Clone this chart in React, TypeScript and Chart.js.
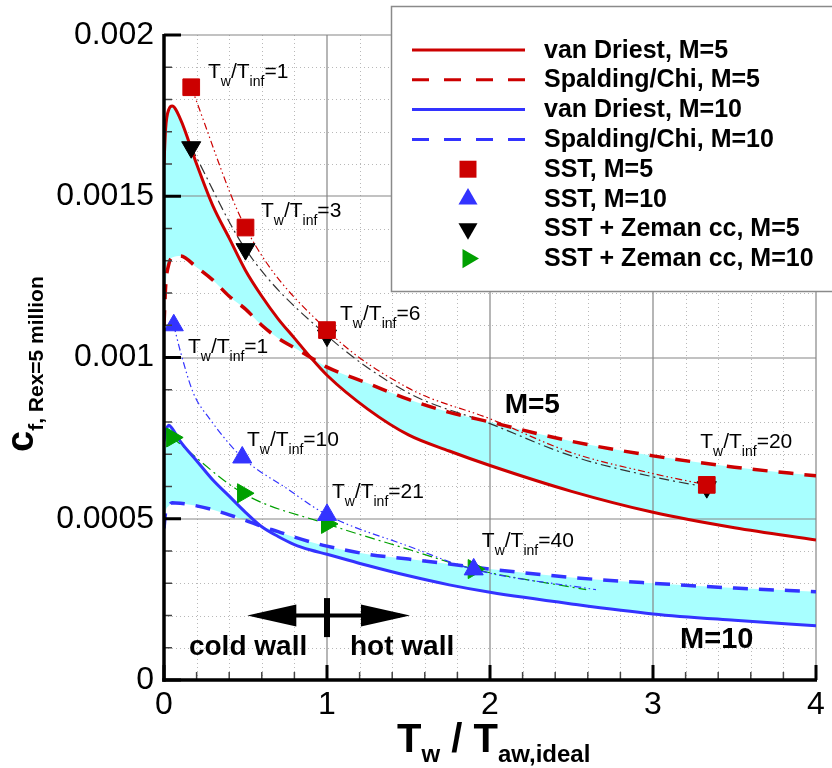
import React, { useEffect, useRef } from 'react';
import { Chart, registerables } from 'chart.js';

Chart.register(...registerables);

// ---------------- data ----------------
const xGrid = [0, 0.01, 0.03, 0.05, 0.1, 0.2, 0.3, 0.4, 0.5, 0.6, 0.7, 0.8, 0.9, 1.0, 1.25, 1.5, 1.75, 2.0, 2.5, 3.0, 3.5, 4.0];
const vanDriestM5 = [0.0016, 0.00171, 0.00177, 0.00178, 0.00174, 0.0016, 0.00147, 0.00137, 0.00127, 0.00119, 0.00112, 0.00106, 0.001, 0.000945, 0.00084, 0.00076, 0.00071, 0.000665, 0.000585, 0.00052, 0.000472, 0.000434];
const spaldingM5 = [0.0011, 0.00122, 0.00129, 0.00131, 0.001315, 0.00128, 0.00124, 0.00119, 0.00115, 0.0011, 0.00106, 0.00103, 0.001, 0.00097, 0.00092, 0.00087, 0.00083, 0.0008, 0.00074, 0.000695, 0.00066, 0.000633];
const vanDriestM10 = [0.00074, 0.00077, 0.00079, 0.00078, 0.00074, 0.00068, 0.00062, 0.00057, 0.00052, 0.000475, 0.000445, 0.00042, 0.000403, 0.00039, 0.000355, 0.000323, 0.000295, 0.000272, 0.000236, 0.000205, 0.000185, 0.000168];
const spaldingM10 = [0.00047, 0.00052, 0.00054, 0.00055, 0.000548, 0.00054, 0.000528, 0.000512, 0.000495, 0.000476, 0.00046, 0.000443, 0.000428, 0.000415, 0.00039, 0.000375, 0.00036, 0.000344, 0.000318, 0.0003, 0.000285, 0.000274];

const sstM5X = [0.167, 0.5, 1.0, 3.33];
const sstM5Y = [0.001838, 0.001403, 0.001085, 0.000605];
const sstM10X = [0.06, 0.48, 1.0, 1.9];
const sstM10Y = [0.0011, 0.00069, 0.000512, 0.000343];
const zemanM5X = [0.167, 0.5, 1.0, 3.33];
const zemanM5Y = [0.001652, 0.001336, 0.001068, 0.000598];
const zemanM10X = [0.05, 0.485, 1.0, 1.9];
const zemanM10Y = [0.000752, 0.000579, 0.000484, 0.000344];

// thin connecting curves through the SST results
const fitSstM5X = [0.167, 0.5, 1.0, 1.5, 2.0, 2.5, 3.0, 3.33];
const fitSstM5Y = [0.001838, 0.001403, 0.001085, 0.000905, 0.00081, 0.000705, 0.00064, 0.000605];
const fitZemanM5X = [0.167, 0.5, 1.0, 1.5, 2.0, 2.5, 3.0, 3.33];
const fitZemanM5Y = [0.001652, 0.001336, 0.001068, 0.00089, 0.000795, 0.000695, 0.00063, 0.000598];
const fitSstM10X = [0.06, 0.1, 0.18, 0.28, 0.48, 0.75, 1.0, 1.5, 1.9, 2.65];
const fitSstM10Y = [0.0011, 0.00102, 0.00089, 0.00081, 0.00069, 0.000595, 0.000512, 0.000415, 0.000343, 0.00028];
const fitZemanM10X = [0.05, 0.485, 1.0, 1.5, 1.9, 2.59];
const fitZemanM10Y = [0.000752, 0.000579, 0.000484, 0.000405, 0.000344, 0.00028];

const xTickLabels = ['0', '1', '2', '3', '4'];
const yTickLabels = ['0', '0.0005', '0.001', '0.0015', '0.002'];

const legendLabels = [
  'van Driest, M=5',
  'Spalding/Chi, M=5',
  'van Driest, M=10',
  'Spalding/Chi, M=10',
  'SST, M=5',
  'SST, M=10',
  'SST + Zeman cc, M=5',
  'SST + Zeman cc, M=10',
];

const ratioValues = ['1', '3', '6', '1', '10', '21', '40', '20'];

// ---------------- styles / layout ----------------
const FONT = "'Liberation Sans', Arial, Helvetica, sans-serif";
const RED = '#cc0000';
const BLUE = '#3333ff';
const GREEN = '#00a000';
const BLACK = '#000000';
const CYAN = '#a8ffff';

const ratioAnchors = [
  { x: 0.27, y: 0.001867 },
  { x: 0.595, y: 0.001436 },
  { x: 1.08, y: 0.001116 },
  { x: 0.147, y: 0.001014 },
  { x: 0.509, y: 0.000726 },
  { x: 1.03, y: 0.000564 },
  { x: 1.95, y: 0.000412 },
  { x: 3.29, y: 0.000719 },
];

const pts = (xs: number[], ys: number[]) => xs.map((x, i) => ({ x, y: ys[i] }));

type Part = { t: string; sub?: boolean };

function drawRich(ctx: CanvasRenderingContext2D, x: number, y: number, parts: Part[], size: number, subSize: number, subShift: number, weight: string) {
  let cx = x;
  ctx.fillStyle = '#000';
  ctx.textAlign = 'left';
  ctx.textBaseline = 'alphabetic';
  for (const p of parts) {
    const s = p.sub ? subSize : size;
    ctx.font = `${weight} ${s}px ${FONT}`;
    ctx.fillText(p.t, cx, p.sub ? y + subShift : y);
    cx += ctx.measureText(p.t).width;
  }
}

function drawMarker(ctx: CanvasRenderingContext2D, style: string, rot: number, x: number, y: number, r: number, color: string) {
  ctx.save();
  ctx.translate(x, y);
  ctx.fillStyle = color;
  ctx.beginPath();
  if (style === 'rect') {
    const s = r * Math.SQRT1_2;
    ctx.rect(-s, -s, 2 * s, 2 * s);
  } else {
    ctx.rotate((rot * Math.PI) / 180);
    for (let k = 0; k < 3; k++) {
      const a = (k * 2 * Math.PI) / 3;
      const px = Math.sin(a) * r;
      const py = -Math.cos(a) * r;
      if (k === 0) ctx.moveTo(px, py);
      else ctx.lineTo(px, py);
    }
    ctx.closePath();
  }
  ctx.fill();
  ctx.restore();
}

function line(ctx: CanvasRenderingContext2D, x1: number, y1: number, x2: number, y2: number) {
  ctx.beginPath();
  ctx.moveTo(x1, y1);
  ctx.lineTo(x2, y2);
  ctx.stroke();
}

const decor = {
  id: 'decor',
  beforeDraw(chart: any) {
    const { ctx, chartArea } = chart;
    const { left, right, top, bottom } = chartArea;
    const xs = chart.scales.x;
    const ys = chart.scales.y;
    ctx.save();
    ctx.strokeStyle = '#b8b8b8';
    ctx.lineWidth = 1;
    ctx.setLineDash([1, 3]);
    for (let i = 1; i < 20; i++) {
      if (i % 5 === 0) continue;
      const px = Math.round(xs.getPixelForValue(i * 0.2)) + 0.5;
      line(ctx, px, top, px, bottom);
    }
    for (let j = 1; j < 20; j++) {
      if (j % 5 === 0) continue;
      const py = Math.round(ys.getPixelForValue(j * 0.0001)) + 0.5;
      line(ctx, left, py, right, py);
    }
    ctx.restore();
  },
  beforeDatasetsDraw(chart: any) {
    const { ctx, chartArea } = chart;
    const { left, right, top, bottom } = chartArea;
    const xs = chart.scales.x;
    const ys = chart.scales.y;
    ctx.save();
    ctx.strokeStyle = '#858585';
    ctx.lineWidth = 1.2;
    for (let i = 1; i <= 4; i++) {
      const px = Math.round(xs.getPixelForValue(i));
      line(ctx, px, top, px, bottom);
    }
    for (let j = 1; j <= 4; j++) {
      const py = Math.round(ys.getPixelForValue(j * 0.0005));
      line(ctx, left, py, right, py);
    }
    ctx.restore();
  },
  afterDraw(chart: any) {
    const { ctx, chartArea } = chart;
    const { left, right, top, bottom } = chartArea;
    const xs = chart.scales.x;
    const ys = chart.scales.y;
    const X = (v: number) => xs.getPixelForValue(v);
    const Y = (v: number) => ys.getPixelForValue(v);
    ctx.save();

    // ticks (inward)
    ctx.strokeStyle = '#000';
    for (let j = 0; j <= 20; j++) {
      const py = Y(j * 0.0001);
      const major = j % 5 === 0;
      ctx.lineWidth = major ? 3 : 1.5;
      ctx.strokeStyle = major ? '#000' : '#444';
      line(ctx, left, py, left + (major ? 17 : 8), py);
    }
    for (let i = 0; i <= 20; i++) {
      const px = X(i * 0.2);
      const major = i % 5 === 0;
      ctx.lineWidth = major ? 3 : 1.5;
      ctx.strokeStyle = major ? '#000' : '#444';
      line(ctx, px, bottom, px, bottom - (major ? 15 : 8));
    }
    // axes
    ctx.strokeStyle = '#000';
    ctx.lineWidth = 3.5;
    line(ctx, left, top - 1, left, bottom + 1.75);
    line(ctx, left - 1.75, bottom, right + 1, bottom);

    // annotations: ratio labels
    ratioAnchors.forEach((a, i) => {
      drawRich(ctx, X(a.x), Y(a.y), [
        { t: 'T' }, { t: 'w', sub: true }, { t: '/T' }, { t: 'inf', sub: true }, { t: '=' + ratioValues[i] },
      ], 21, 14, 8, 'normal');
    });
    drawRich(ctx, X(2.09), Y(0.000828), [{ t: 'M=5' }], 28, 28, 0, 'bold');
    drawRich(ctx, X(3.166), Y(0.0000992), [{ t: 'M=10' }], 29, 29, 0, 'bold');
    drawRich(ctx, X(0.153), Y(0.0000775), [{ t: 'cold wall' }], 28, 28, 0, 'bold');
    drawRich(ctx, X(1.141), Y(0.0000775), [{ t: 'hot wall' }], 28, 28, 0, 'bold');

    // cold / hot arrow
    const ay = Y(0.0002);
    const ax1 = X(0.511);
    const ax2 = X(1.509);
    ctx.strokeStyle = '#000';
    ctx.lineWidth = 4;
    line(ctx, ax1 + 10, ay, ax2 - 10, ay);
    ctx.fillStyle = '#000';
    ctx.beginPath();
    ctx.moveTo(ax1, ay);
    ctx.lineTo(ax1 + 49, ay - 11);
    ctx.lineTo(ax1 + 49, ay + 11);
    ctx.closePath();
    ctx.fill();
    ctx.beginPath();
    ctx.moveTo(ax2, ay);
    ctx.lineTo(ax2 - 49, ay - 11);
    ctx.lineTo(ax2 - 49, ay + 11);
    ctx.closePath();
    ctx.fill();
    ctx.lineWidth = 6;
    line(ctx, X(1.0), Y(0.000254), X(1.0), Y(0.000133));

    // legend box
    ctx.fillStyle = '#fff';
    ctx.fillRect(391.5, 6.5, 460, 285);
    ctx.strokeStyle = '#8a8a8a';
    ctx.lineWidth = 1.5;
    ctx.strokeRect(391.5, 6.5, 460, 285);
    const styles = [
      { kind: 'line', color: RED, dash: [] as number[] },
      { kind: 'line', color: RED, dash: [17, 15] },
      { kind: 'line', color: BLUE, dash: [] as number[] },
      { kind: 'line', color: BLUE, dash: [17, 15] },
      { kind: 'rect', color: RED, rot: 0 },
      { kind: 'triangle', color: BLUE, rot: 0 },
      { kind: 'triangle', color: BLACK, rot: 180 },
      { kind: 'triangle', color: GREEN, rot: 90 },
    ];
    legendLabels.forEach((lab, i) => {
      const base = 57.5 + 29.8 * i;
      const cy = base - 7.5;
      const s: any = styles[i];
      if (s.kind === 'line') {
        ctx.strokeStyle = s.color;
        ctx.lineWidth = 3;
        ctx.setLineDash(s.dash);
        line(ctx, 412, cy, 525, cy);
        ctx.setLineDash([]);
      } else {
        drawMarker(ctx, s.kind, s.rot, 468, cy, s.kind === 'rect' ? 12 : 11, s.color);
      }
      drawRich(ctx, 544, base, [{ t: lab }], 25, 25, 0, 'bold');
    });

    // axis titles
    drawRich(ctx, 397, 752, [
      { t: 'T' }, { t: 'w', sub: true }, { t: ' / ' }, { t: 'T' }, { t: 'aw,ideal', sub: true },
    ], 40, 24, 10, 'bold');
    ctx.save();
    ctx.translate(33, 452);
    ctx.rotate(-Math.PI / 2);
    drawRich(ctx, 0, 0, [{ t: 'c' }, { t: 'f, Rex=5 million', sub: true }], 38, 21, 10, 'bold');
    ctx.restore();

    ctx.restore();
  },
};

function curve(label: string, ys: number[], color: string, dashed: boolean, fillTarget?: number) {
  return {
    label,
    data: pts(xGrid, ys),
    borderColor: color,
    backgroundColor: CYAN,
    borderWidth: dashed ? 3.5 : 3,
    borderDash: dashed ? [15, 11] : [],
    pointRadius: 0,
    cubicInterpolationMode: 'monotone',
    fill: fillTarget === undefined ? false : { target: fillTarget, above: CYAN, below: CYAN },
    order: 1,
  };
}

function fit(label: string, xs: number[], ys: number[], color: string, dash: number[]) {
  return {
    label,
    data: pts(xs, ys),
    borderColor: color,
    borderWidth: 1.2,
    borderDash: dash,
    pointRadius: 0,
    cubicInterpolationMode: 'monotone',
    fill: false,
    order: 2,
  };
}

function markers(label: string, xs: number[], ys: number[], color: string, style: string, rot: number, r: number) {
  return {
    label,
    data: pts(xs, ys),
    showLine: false,
    pointStyle: style,
    pointRotation: rot,
    pointRadius: r,
    pointBackgroundColor: color,
    pointBorderColor: color,
    pointBorderWidth: 1,
    borderColor: color,
    backgroundColor: color,
    fill: false,
    clip: false,
    order: 0,
  };
}

export default function App() {
  const ref = useRef<HTMLCanvasElement>(null);
  useEffect(() => {
    document.body.style.margin = '0';
    const canvas = ref.current;
    if (!canvas) return;
    const chart = new Chart(canvas, {
      type: 'line',
      data: {
        datasets: [
          curve(legendLabels[0], vanDriestM5, RED, false, 1),
          curve(legendLabels[1], spaldingM5, RED, true),
          curve(legendLabels[2], vanDriestM10, BLUE, false, 3),
          curve(legendLabels[3], spaldingM10, BLUE, true),
          fit('fit SST M5', fitSstM5X, fitSstM5Y, RED, [7, 3, 1.5, 3, 1.5, 3]),
          fit('fit Zeman M5', fitZemanM5X, fitZemanM5Y, '#333', [10, 4, 2, 4]),
          fit('fit SST M10', fitSstM10X, fitSstM10Y, BLUE, [7, 3, 1.5, 3, 1.5, 3]),
          fit('fit Zeman M10', fitZemanM10X, fitZemanM10Y, GREEN, [10, 4, 2, 4]),
          markers(legendLabels[4], sstM5X, sstM5Y, RED, 'rect', 0, 11.8),
          markers(legendLabels[5], sstM10X, sstM10Y, BLUE, 'triangle', 0, 11),
          markers(legendLabels[6], zemanM5X, zemanM5Y, BLACK, 'triangle', 180, 11),
          markers(legendLabels[7], zemanM10X, zemanM10Y, GREEN, 'triangle', 90, 11),
        ] as any,
      },
      options: {
        animation: false,
        responsive: false,
        layout: { padding: { top: 35, right: 16, left: 0, bottom: 0 } },
        plugins: {
          legend: { display: false },
          tooltip: { enabled: false },
          filler: { propagate: false, drawTime: 'beforeDatasetsDraw' } as any,
        },
        scales: {
          x: {
            type: 'linear',
            min: 0,
            max: 4,
            afterFit: (s: any) => { s.height = 88; },
            grid: { display: false, drawTicks: false },
            border: { display: false },
            ticks: {
              stepSize: 1,
              autoSkip: false,
              maxRotation: 0,
              padding: 6,
              color: '#000',
              font: { family: FONT, size: 32 },
              callback: (_v: any, i: number) => xTickLabels[i] ?? '',
            },
          },
          y: {
            type: 'linear',
            min: 0,
            max: 0.002,
            afterFit: (s: any) => { s.width = 164; },
            grid: { display: false, drawTicks: false },
            border: { display: false },
            ticks: {
              stepSize: 0.0005,
              autoSkip: false,
              padding: 10,
              color: '#000',
              font: { family: FONT, size: 32 },
              callback: (_v: any, i: number) => yTickLabels[i] ?? '',
            },
          },
        },
      } as any,
      plugins: [decor],
    });
    return () => chart.destroy();
  }, []);
  return (
    <div style={{ width: 832, height: 768, background: '#fff' }}>
      <canvas ref={ref} width={832} height={768} style={{ display: 'block' }} />
    </div>
  );
}
